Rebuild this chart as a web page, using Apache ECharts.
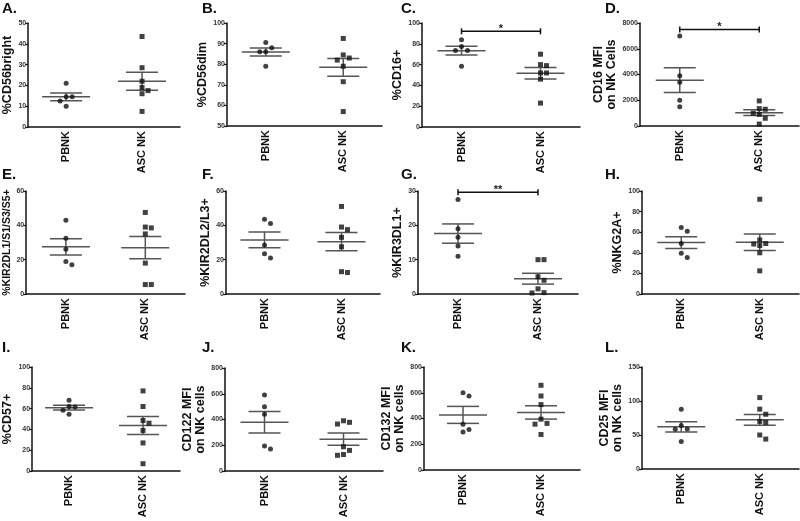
<!DOCTYPE html>
<html>
<head>
<meta charset="utf-8">
<script src="https://cdn.jsdelivr.net/npm/echarts@6/dist/echarts.min.js"></script>
<style>
  html, body { margin: 0; padding: 0; background: #fff; }
  #chart { width: 800px; height: 521px; }
</style>
</head>
<body>
<div id="chart"></div>
<script>
  // ---- data ----
  const categories = ['PBNK', 'ASC NK'];
  const panelLetters = ['A.', 'B.', 'C.', 'D.', 'E.', 'F.', 'G.', 'H.', 'I.', 'J.', 'K.', 'L.'];
  const yNames = [
    '%CD56bright', '%CD56dim', '%CD16+', 'CD16 MFI\non NK Cells',
    '%KIR2DL1/S1/S3/S5+', '%KIR2DL2/L3+', '%KIR3DL1+', '%NKG2A+',
    '%CD57+', 'CD122 MFI\non NK cells', 'CD132 MFI\non NK cells', 'CD25 MFI\non NK cells'
  ];
  const yMin = [0, 50, 0, 0, 0, 0, 0, 0, 0, 0, 0, 0];
  const yMax = [50, 100, 100, 8000, 60, 60, 30, 100, 100, 800, 800, 150];
  const yStep = [10, 10, 20, 2000, 20, 20, 10, 20, 20, 200, 200, 50];

  // one row per panel (A..L)
  const pbnkValues = [
    [21, 14.5, 14.5, 12.5, 10],
    [90.5, 88, 86, 86, 79],
    [84, 77.5, 73.5, 73.5, 58.5],
    [7000, 3900, 3400, 2000, 1500],
    [43, 32.5, 26, 19, 17],
    [43.5, 41, 28.5, 23.5, 21],
    [27.5, 19, 16.5, 14, 11],
    [64.5, 61, 49, 39.5, 35.5],
    [68, 62, 61.5, 58.5, 54.5],
    [590, 500, 440, 195, 170],
    [600, 575, 355, 315, 295],
    [88, 64, 58.5, 59, 40.5]
  ];
  const ascValues = [
    [43.5, 28.5, 22, 19, 17.5, 16, 7.5],
    [92.5, 84.5, 83, 82, 79, 71.5, 57],
    [70, 59, 60, 52, 52, 46, 23],
    [1950, 1300, 1350, 900, 1000, 600, 150],
    [47.5, 39, 38.5, 35, 18, 5.5, 5.5],
    [51, 39, 37.5, 33, 27.5, 12.5, 13],
    [10, 10, 5, 4, 1.5, 0.4, 0.3],
    [92, 52.5, 49, 48.5, 47, 40, 22.5],
    [77, 62, 48.5, 46, 39, 27, 7],
    [390, 365, 378, 188, 160, 122, 128],
    [658, 575, 508, 395, 362, 356, 276],
    [105, 88, 80.5, 70, 68.5, 50, 44]
  ];
  const sigLabels = [null, null, '*', '*', null, null, '**', null, null, null, null, null];
  const sigLevels = [null, null, 92, 7500, null, null, 29.6, null, null, null, null, null];

  // ---- layout: left, top, right, bottom of each plot area, name gap, name size ----
  const layout = [
    [23, 23, 180, 127, 9, 12.5], [227, 23, 382, 126, 12, 12.5], [422, 23, 580, 127, 9, 12.5], [640, 23, 799, 126, 6, 12.5],
    [23, 191, 185, 294, 9, 10.5], [226, 191, 380, 294, 10, 12.5], [418, 191, 578, 294, 8, 12.5], [642, 191, 799, 294, 7, 12.5],
    [22, 367, 180, 471, 9, 12.5], [225, 368, 383, 471, 10, 12.5], [424, 367, 580, 470, 15, 12.5], [642, 367, 799, 469, 12, 12.5]
  ];
  const letterX = [2, 202, 401, 605];
  const letterY = [1, 167, 340];

  const font = 'Liberation Sans, Arial, Helvetica, sans-serif';

  const mean = arr => arr.reduce((a, b) => a + b, 0) / arr.length;
  const sem = arr => {
    const m = mean(arr);
    const v = arr.reduce((a, b) => a + (b - m) * (b - m), 0) / (arr.length - 1);
    return Math.sqrt(v / arr.length);
  };

  // spread overlapping points sideways, like a column scatter
  function spread(values, pxPerUnit) {
    const order = values.map((v, i) => i).sort((a, b) => values[b] - values[a]);
    const placed = [];
    const offs = values.map(() => 0);
    const cands = [0, 6, -6, 12, -12, 18, -18];
    order.forEach(i => {
      const y = values[i] * pxPerUnit;
      for (const dx of cands) {
        if (placed.every(p => Math.hypot(p.x - dx, p.y - y) >= 5.5)) {
          offs[i] = dx;
          placed.push({ x: dx, y: y });
          break;
        }
      }
    });
    return offs;
  }

  const renderMeanSem = (params, api) => {
    const c = api.value(0), m = api.value(1), s = api.value(2);
    const p = api.coord([c, m]);
    const hi = api.coord([c, m + s]);
    const lo = api.coord([c, m - s]);
    const style = { stroke: '#555', lineWidth: 1.5 };
    return {
      type: 'group',
      children: [
        { type: 'line', shape: { x1: p[0] - 24, y1: p[1], x2: p[0] + 24, y2: p[1] }, style },
        { type: 'line', shape: { x1: hi[0] - 16, y1: hi[1], x2: hi[0] + 16, y2: hi[1] }, style },
        { type: 'line', shape: { x1: lo[0] - 16, y1: lo[1], x2: lo[0] + 16, y2: lo[1] }, style },
        { type: 'line', shape: { x1: p[0], y1: hi[1], x2: p[0], y2: lo[1] }, style }
      ]
    };
  };

  const renderBracket = (params, api) => {
    const y = api.value(1);
    const a = api.coord([0, y]);
    const b = api.coord([1, y]);
    const style = { stroke: '#111', lineWidth: 1.5 };
    return {
      type: 'group',
      children: [
        { type: 'line', shape: { x1: a[0], y1: a[1], x2: b[0], y2: b[1] }, style },
        { type: 'line', shape: { x1: a[0], y1: a[1] - 3, x2: a[0], y2: a[1] + 3 }, style },
        { type: 'line', shape: { x1: b[0], y1: b[1] - 3, x2: b[0], y2: b[1] + 3 }, style },
        {
          type: 'text',
          style: {
            text: api.value(2) === 2 ? '**' : '*',
            x: (a[0] + b[0]) / 2, y: a[1] + 3,
            align: 'center', verticalAlign: 'bottom',
            fontSize: 11, fontWeight: 'bold', fontFamily: font, fill: '#222'
          }
        }
      ]
    };
  };

  const grid = [], xAxis = [], yAxis = [], series = [], title = [];

  layout.forEach((g, i) => {
    const [l, t, r, b, gap, nameSize] = g;
    grid.push({ left: l, top: t, width: r - l, height: b - t });
    title.push({
      text: panelLetters[i],
      left: letterX[i % 4], top: letterY[Math.floor(i / 4)], padding: 0,
      textStyle: { fontSize: 15, fontWeight: 'bold', fontFamily: font, color: '#111' }
    });
    xAxis.push({
      type: 'category', gridIndex: i, data: categories,
      axisLine: { lineStyle: { color: '#111', width: 1.5 } },
      axisTick: { alignWithLabel: true, length: 3, lineStyle: { color: '#111', width: 1.2 } },
      axisLabel: { rotate: 90, margin: 4, fontSize: 11, fontWeight: 'bold', fontFamily: font, color: '#111' }
    });
    yAxis.push({
      type: 'value', gridIndex: i, min: yMin[i], max: yMax[i], interval: yStep[i],
      name: yNames[i], nameLocation: 'middle', nameGap: gap,
      nameTextStyle: { fontSize: nameSize, fontWeight: 'bold', fontFamily: font, color: '#111', lineHeight: nameSize + 1 },
      axisLine: { show: true, lineStyle: { color: '#111', width: 1.5 } },
      axisTick: { show: true, length: 3, lineStyle: { color: '#111', width: 1.2 } },
      axisLabel: {
        fontSize: 7, fontWeight: 'bold', fontFamily: font, color: '#333', margin: 2,
        formatter: v => String(v)
      },
      splitLine: { show: false }
    });

    const pxPerUnit = (b - t) / (yMax[i] - yMin[i]);
    const groups = [pbnkValues[i], ascValues[i]];
    groups.forEach((vals, c) => {
      const offs = spread(vals, pxPerUnit);
      series.push({
        type: 'scatter', xAxisIndex: i, yAxisIndex: i,
        symbol: c === 0 ? 'circle' : 'rect', symbolSize: 5,
        itemStyle: { color: '#111' },
        data: vals.map((v, k) => ({ value: [c, v], symbolOffset: [offs[k], 0] })),
        z: 3
      });
    });
    series.push({
      type: 'custom', xAxisIndex: i, yAxisIndex: i,
      renderItem: renderMeanSem,
      data: groups.map((vals, c) => [c, mean(vals), sem(vals)]),
      z: 2
    });
    if (sigLabels[i]) {
      series.push({
        type: 'custom', xAxisIndex: i, yAxisIndex: i,
        renderItem: renderBracket,
        data: [[0, sigLevels[i], sigLabels[i].length]],
        z: 2
      });
    }
  });

  const chart = echarts.init(document.getElementById('chart'));
  chart.setOption({
    animation: false,
    backgroundColor: '#fff',
    title: title,
    grid: grid,
    xAxis: xAxis,
    yAxis: yAxis,
    series: series
  });
</script>
</body>
</html>
